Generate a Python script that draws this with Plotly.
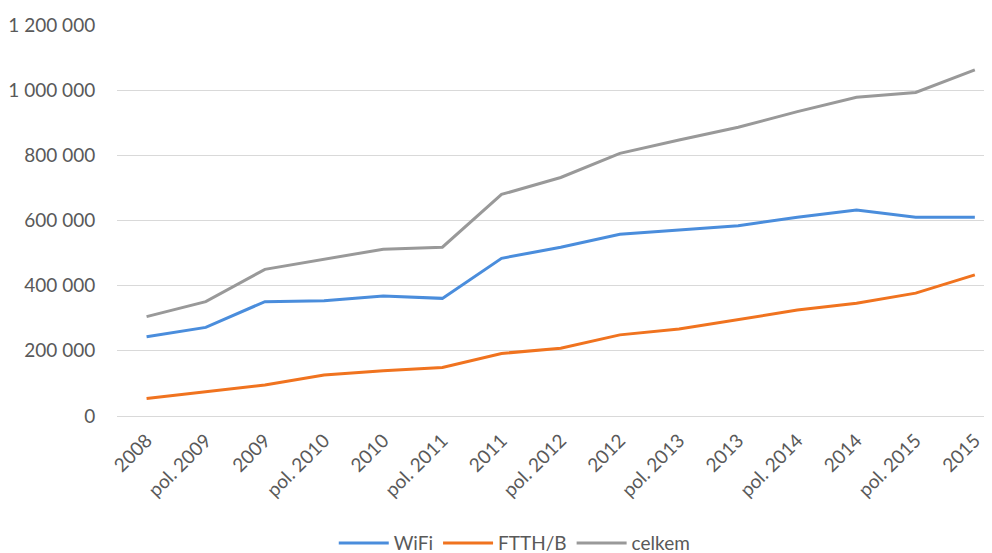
import plotly.graph_objects as go

# period labels on the category axis
periods = ['2008', 'pol. 2009', '2009', 'pol. 2010', '2010', 'pol. 2011', '2011',
           'pol. 2012', '2012', 'pol. 2013', '2013', 'pol. 2014', '2014', 'pol. 2015', '2015']

wifi = [243000, 272000, 351000, 354000, 368000, 361000, 484000, 518000,
        558000, 571000, 584000, 610000, 632000, 610000, 610000]
ftth = [54000, 74000, 95000, 126000, 139000, 149000, 192000, 208000,
        249000, 267000, 296000, 325000, 346000, 377000, 433000]
celkem = [305000, 351000, 450000, 482000, 512000, 518000, 680000, 732000,
          806000, 847000, 886000, 934000, 978000, 993000, 1062000]

series = [('WiFi', wifi, '#4a8ddc'),
          ('FTTH/B', ftth, '#f0731f'),
          ('celkem', celkem, '#999999')]

x_idx = list(range(len(periods)))

fig = go.Figure()
for name, vals, col in series:
    fig.add_trace(go.Scatter(x=x_idx, y=vals, mode='lines', name=name,
                             line=dict(color=col, width=3)))

font_col = '#595959'
# page body has an 8px margin, so the figure is a bit smaller than the window
fig.update_layout(
    width=984, height=545,
    paper_bgcolor='white', plot_bgcolor='white',
    margin=dict(l=109, r=0, t=17, b=137, autoexpand=False),
    separators=', ',
    font=dict(family='Lato, Open Sans, sans-serif', size=19, color=font_col),
    showlegend=True,
    legend=dict(orientation='h', xref='container', yref='container',
                x=0.515, xanchor='center', y=0.018, yanchor='middle',
                itemwidth=50,
                font=dict(size=19, color=font_col), traceorder='normal'),
)
fig.update_xaxes(
    tickmode='array', tickvals=x_idx, ticktext=periods, tickangle=-45,
    range=[-0.5, 14.29], showgrid=False, zeroline=False, showline=False,
    ticks='outside', ticklen=5, tickcolor='rgba(0,0,0,0)', automargin=False,
)
fig.update_yaxes(
    range=[0, 1200000], dtick=200000, tickformat=',d',
    showgrid=True, gridcolor='#d9d9d9', gridwidth=1,
    zeroline=True, zerolinecolor='#d9d9d9', zerolinewidth=1, showline=False,
    ticks='outside', ticklen=17, tickcolor='rgba(0,0,0,0)', automargin=False,
)

fig.write_html('out.html')
